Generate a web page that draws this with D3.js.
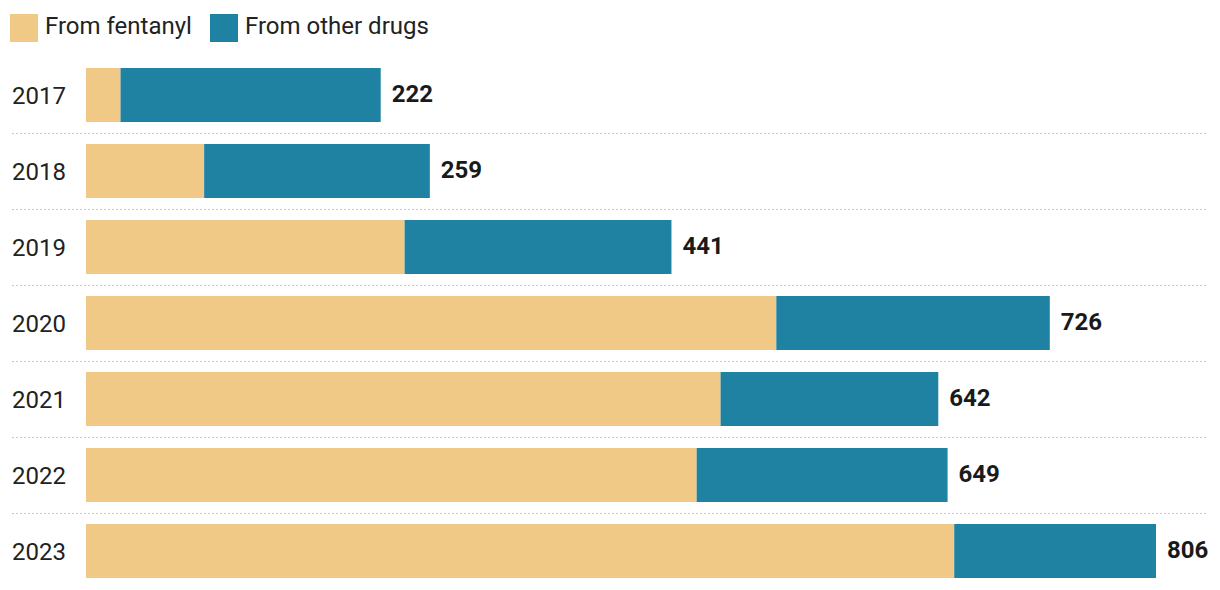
<!DOCTYPE html>
<html><head><meta charset="utf-8">
<script src="https://cdn.jsdelivr.net/npm/d3@7"></script>
<style>body{margin:0;background:#fff;font-family:Roboto,sans-serif;}</style>
</head><body>
<svg id="c" width="1220" height="590"></svg>
<script>
const years = ["2017","2018","2019","2020","2021","2022","2023"];
const fentanyl = [26, 89, 240, 520, 478, 460, 654];
const totals = [222, 259, 441, 726, 642, 649, 806];
const seriesNames = ["From fentanyl", "From other drugs"];
const colors = ["#f0c987", "#1f82a3"];

const svg = d3.select("#c");
const x = d3.scaleLinear().domain([0, 806]).range([86, 1156]);
const y = d3.scaleBand().domain(years).range([57, 589]).paddingInner(22/76).paddingOuter(11/76);

// legend
const leg = svg.append("g");
const legX = [10, 210];
seriesNames.forEach((n, i) => {
  leg.append("rect").attr("x", legX[i]).attr("y", 14).attr("width", 28).attr("height", 28).attr("fill", colors[i]);
  leg.append("text").attr("x", legX[i] + 35).attr("y", 26).attr("dy", "0.35em")
    .attr("font-size", 24).attr("fill", "#222").text(n);
});

// separators
const step = y.step();
years.slice(1).forEach(yr => {
  const yy = Math.round(y(yr) - (step - y.bandwidth()) / 2) + 0.5;
  svg.append("line").attr("x1", 12).attr("x2", 1208).attr("y1", yy).attr("y2", yy)
    .attr("stroke", "#c8c8c8").attr("stroke-width", 1).attr("stroke-dasharray", "2,2");
});

const rows = svg.selectAll("g.row").data(years).join("g").attr("class", "row");
rows.append("rect").attr("x", x(0)).attr("y", d => y(d))
  .attr("width", (d, i) => x(fentanyl[i]) - x(0)).attr("height", y.bandwidth()).attr("fill", colors[0]);
rows.append("rect").attr("x", (d, i) => x(fentanyl[i])).attr("y", d => y(d))
  .attr("width", (d, i) => x(totals[i]) - x(fentanyl[i])).attr("height", y.bandwidth()).attr("fill", colors[1]);
rows.append("text").attr("x", 12).attr("y", d => y(d) + y.bandwidth() / 2 + 1).attr("dy", "0.35em")
  .attr("font-size", 24).attr("fill", "#222").text(d => d);
rows.append("text").attr("x", (d, i) => x(totals[i]) + 11).attr("y", d => y(d) + y.bandwidth() / 2 - 1).attr("dy", "0.35em")
  .attr("font-size", 24).attr("font-weight", "bold").attr("fill", "#1a1a1a").text((d, i) => totals[i]);
</script>
</body></html>
